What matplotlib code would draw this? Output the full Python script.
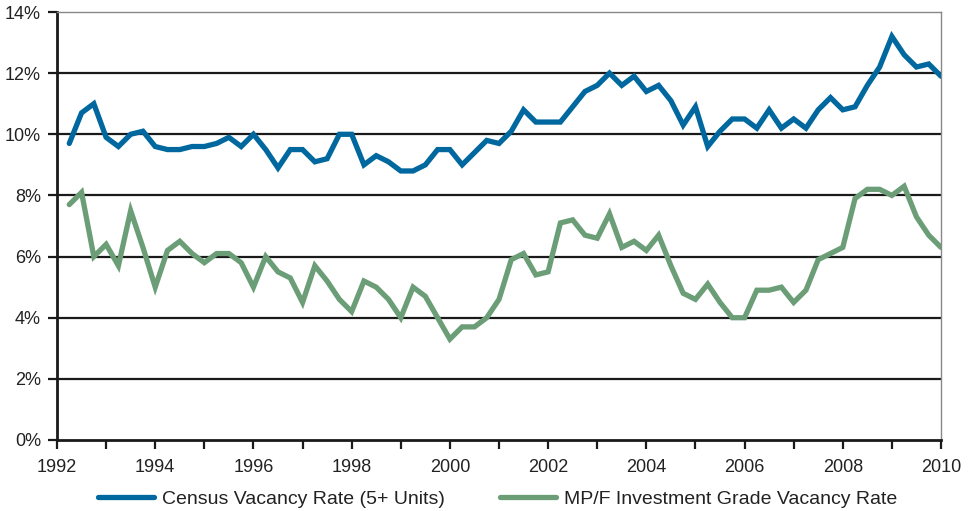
import numpy as np
import matplotlib
matplotlib.use("Agg")
import matplotlib.pyplot as plt
from matplotlib.ticker import FuncFormatter

plt.rcParams['font.family'] = ['Liberation Sans', 'DejaVu Sans']

# quarterly points, 1992Q1 .. 2009Q4 (plotted at end of quarter)
years = 1992.25 + 0.25 * np.arange(72)

census = [9.7, 10.7, 11.0, 9.9, 9.6, 10.0, 10.1, 9.6, 9.5, 9.5, 9.6, 9.6,
          9.7, 9.9, 9.6, 10.0, 9.5, 8.9, 9.5, 9.5, 9.1, 9.2, 10.0, 10.0,
          9.0, 9.3, 9.1, 8.8, 8.8, 9.0, 9.5, 9.5, 9.0, 9.4, 9.8, 9.7,
          10.1, 10.8, 10.4, 10.4, 10.4, 10.9, 11.4, 11.6, 12.0, 11.6, 11.9, 11.4,
          11.6, 11.1, 10.3, 10.9, 9.6, 10.1, 10.5, 10.5, 10.2, 10.8, 10.2, 10.5,
          10.2, 10.8, 11.2, 10.8, 10.9, 11.6, 12.2, 13.2, 12.6, 12.2, 12.3, 11.9]

mpf = [7.7, 8.1, 6.0, 6.4, 5.7, 7.5, 6.3, 5.0, 6.2, 6.5, 6.1, 5.8,
       6.1, 6.1, 5.8, 5.0, 6.0, 5.5, 5.3, 4.5, 5.7, 5.2, 4.6, 4.2,
       5.2, 5.0, 4.6, 4.0, 5.0, 4.7, 4.0, 3.3, 3.7, 3.7, 4.0, 4.6,
       5.9, 6.1, 5.4, 5.5, 7.1, 7.2, 6.7, 6.6, 7.4, 6.3, 6.5, 6.2,
       6.7, 5.7, 4.8, 4.6, 5.1, 4.5, 4.0, 4.0, 4.9, 4.9, 5.0, 4.5,
       4.9, 5.9, 6.1, 6.3, 7.9, 8.2, 8.2, 8.0, 8.3, 7.3, 6.7, 6.3]

labels = ['Census Vacancy Rate (5+ Units)', 'MP/F Investment Grade Vacancy Rate']
blue = '#00689e'
green = '#6b9e77'

fig = plt.figure(figsize=(9.69, 5.11), dpi=100)
ax = fig.add_axes([57/969, 1-440/511, (941-57)/969, (440-12)/511])

for yv in range(2, 14, 2):
    ax.axhline(yv, color='#1a1a1a', lw=1.6, zorder=1)

ax.plot(years, census, color=blue, lw=3.8, solid_joinstyle='miter',
        solid_capstyle='round', label=labels[0], zorder=3)
ax.plot(years, mpf, color=green, lw=3.8, solid_joinstyle='miter',
        solid_capstyle='round', label=labels[1], zorder=3)

ax.set_xlim(1992, 2010)
ax.set_ylim(0, 14)
ax.set_xticks(np.arange(1992, 2011, 1))
ax.set_xticklabels([str(y) if y % 2 == 0 else '' for y in range(1992, 2011)])
ax.set_yticks(np.arange(0, 15, 2))
ax.yaxis.set_major_formatter(FuncFormatter(lambda v, p: '%d%%' % v))

for s in ['left', 'bottom']:
    ax.spines[s].set_color('#1a1a1a')
    ax.spines[s].set_linewidth(2)
for s in ['top', 'right']:
    ax.spines[s].set_color('#888888')
    ax.spines[s].set_linewidth(1)

ax.tick_params(axis='both', direction='out', length=6.5, width=1.6, color='#1a1a1a',
               labelsize=13, labelcolor='#222222')
ax.tick_params(axis='x', pad=7)
ax.tick_params(axis='y', pad=5)

fig.legend(loc='center', bbox_to_anchor=(0.5 + 13/969, 1 - 499/511), ncol=2, frameon=False,
           fontsize=14, handlelength=2.9, handletextpad=0.42, columnspacing=2.8,
           labelcolor='#222222')

fig.savefig('out.png', dpi=100)
